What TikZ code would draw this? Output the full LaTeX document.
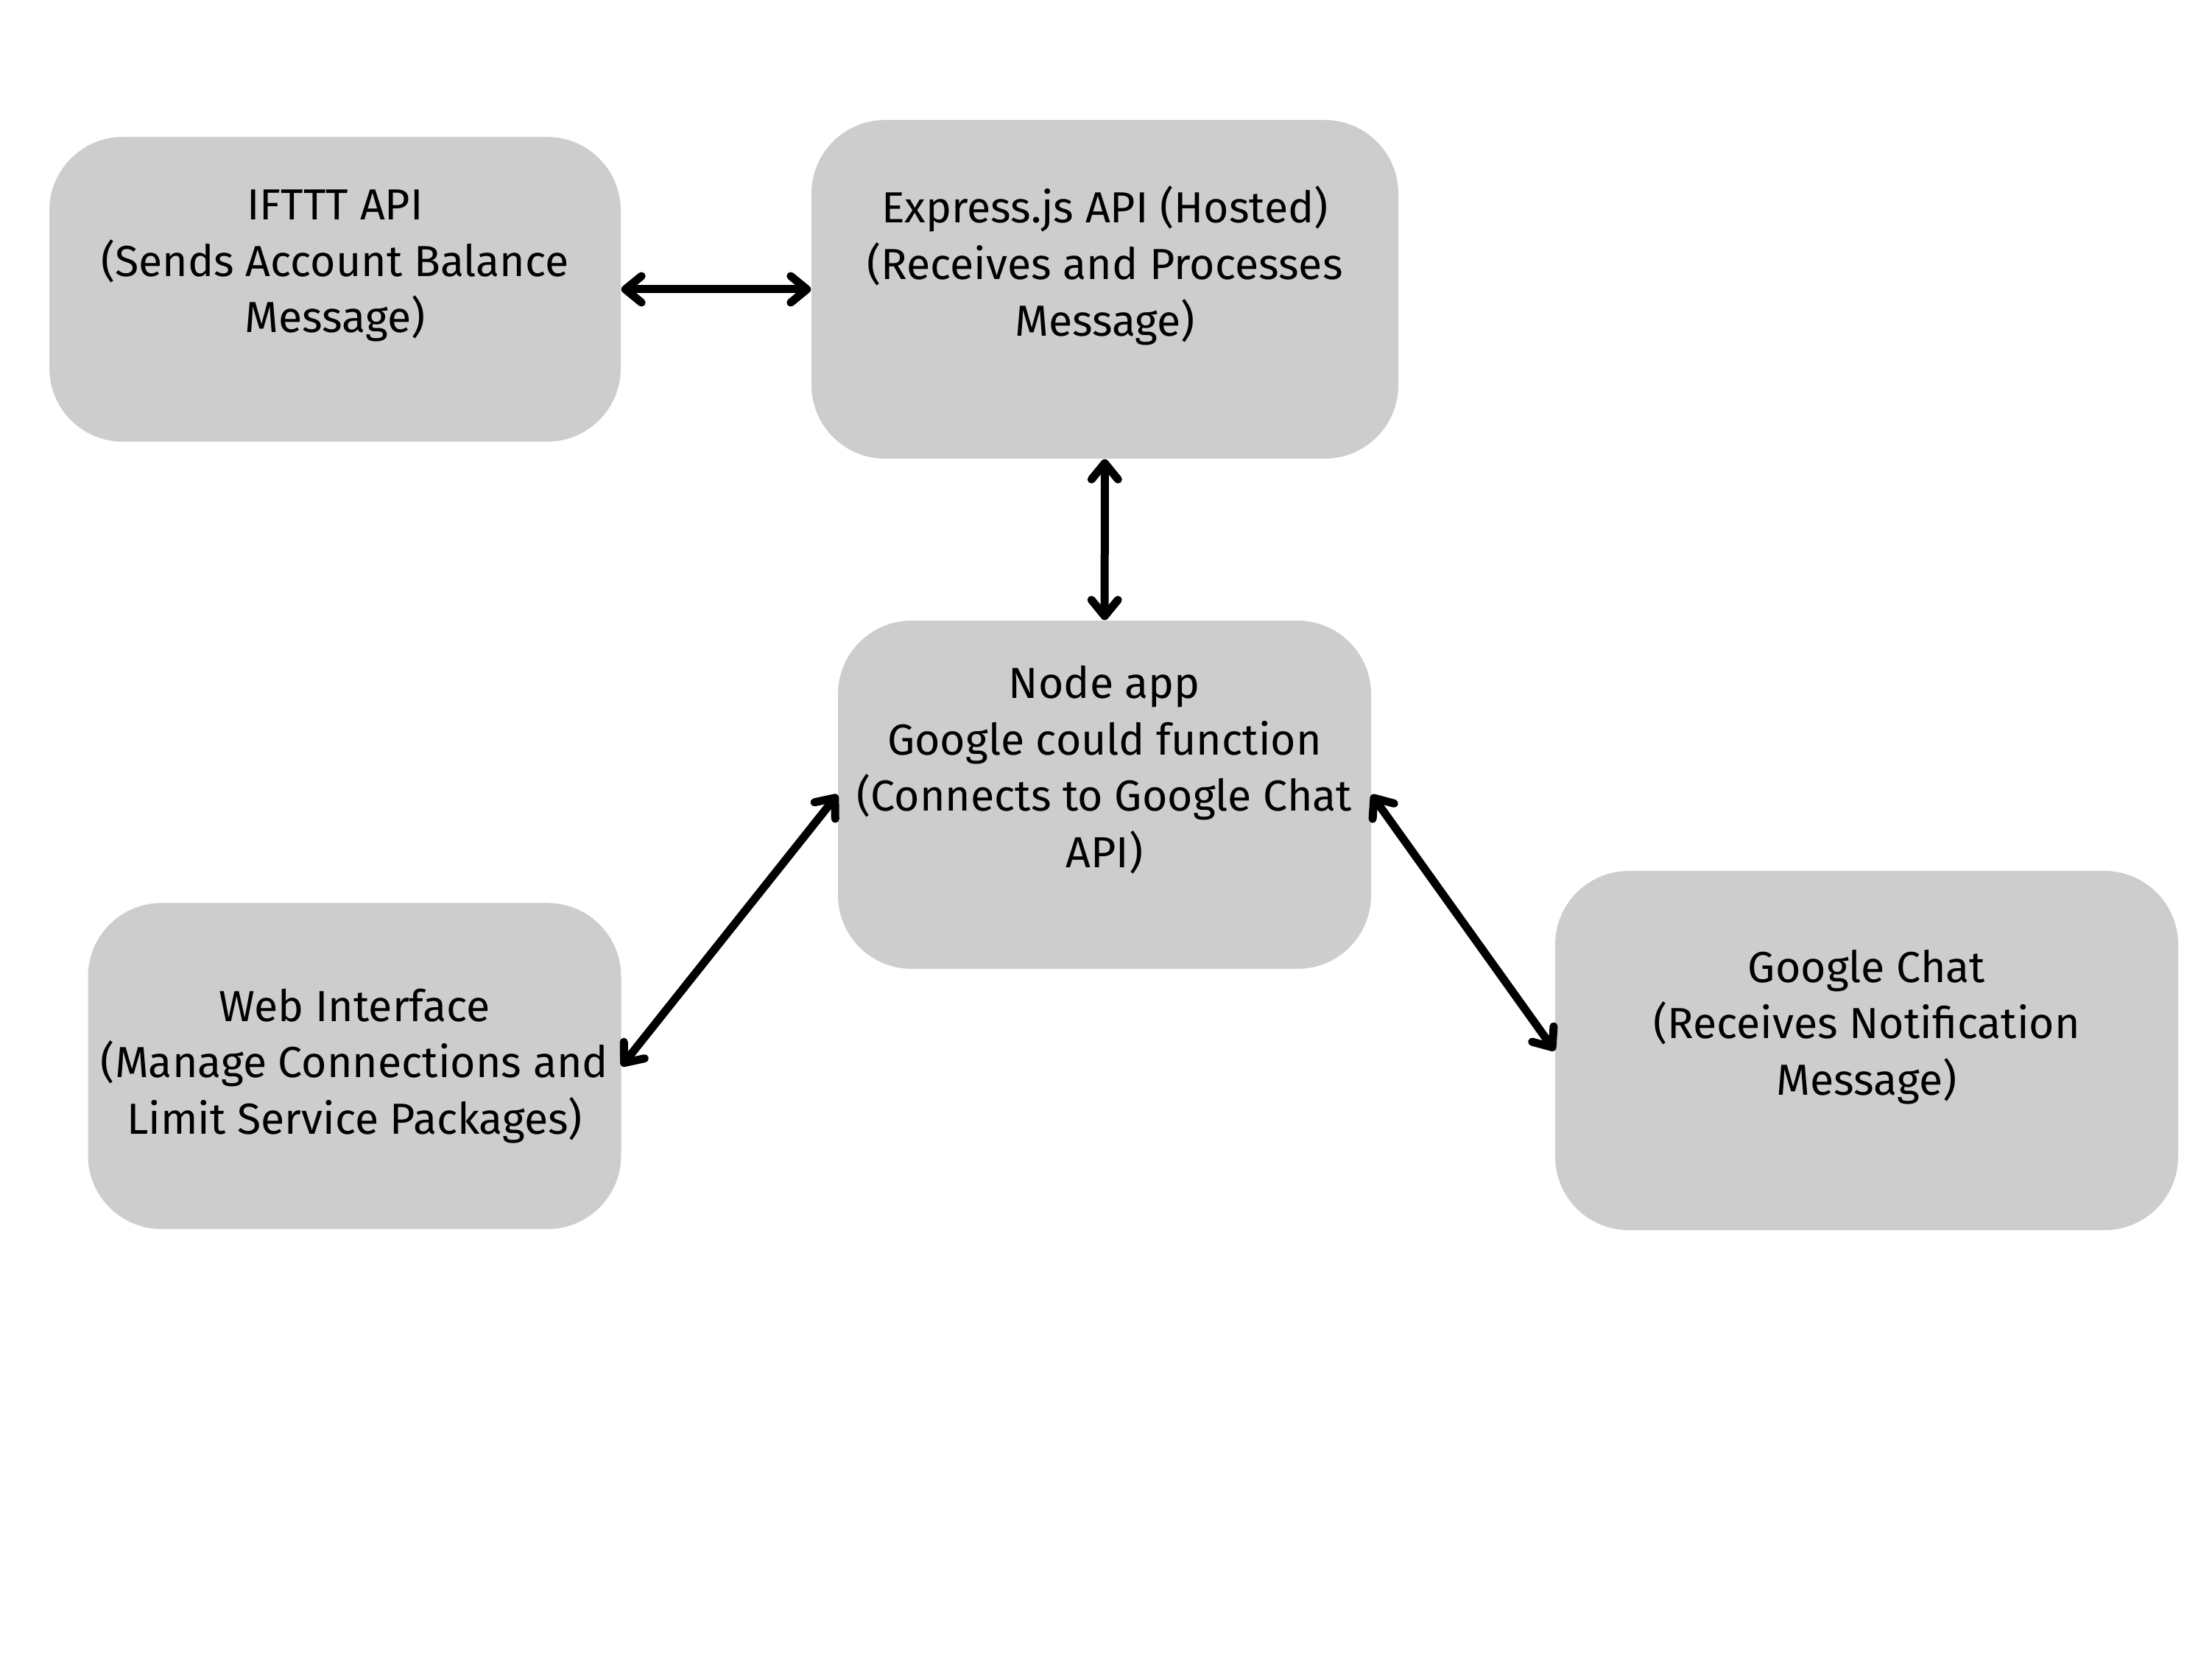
\documentclass[tikz,border=0pt]{standalone}
\usepackage{fontspec}
\setmainfont{Fira Sans}
\usetikzlibrary{arrows.meta}
\definecolor{boxgray}{RGB}{205,205,205}

\begin{document}
\begin{tikzpicture}
                \useasboundingbox (0,0) rectangle (30.04,22.48);

				\begin{scope}[every node/.style={rounded corners=1cm,fill=boxgray,align=center,
                    font=\fontsize{16.8}{21.8}\selectfont,inner sep=0pt}]
                    \node[minimum width=7.76cm,minimum height=4.14cm] (ifttt) at (4.55,18.55)
                        {IFTTT API\\(Sends Account Balance\\Message)\\ \mbox{}};
                    \node[minimum width=7.97cm,minimum height=4.60cm] (express) at (15.005,18.55)
                        {Express.js API (Hosted)\\(Receives and Processes\\Message)\\ \mbox{}};
                    \node[minimum width=7.24cm,minimum height=4.73cm] (app) at (15.0,11.685)
                        {Node app\\Google could function\\(Connects to Google Chat\\API)\\ \mbox{}};
                    \node[minimum width=7.24cm,minimum height=4.43cm] (web) at (4.815,8.0)
                        {Web Interface\\(Manage Connections and\\Limit Service Packages)};
                    \node[minimum width=8.46cm,minimum height=4.88cm] (chat) at (25.35,8.21)
                        {Google Chat\\(Receives Notification\\Message)\\ \mbox{}};
                \end{scope}

                \begin{scope}[>={Straight Barb[length=2.2mm,width=3.6mm,line cap=round,line join=round]},
                every edge/.style={draw=black,line width=0.11cm,line cap=round}]
                    \path [<->] (ifttt) edge (express);
                    \path [<->] (express) edge (app);
                    \path [<->] (app.west) edge (web.east);
                    \path [<->] (app.east) edge (chat.west);
                \end{scope}
			\end{tikzpicture}
\end{document}
